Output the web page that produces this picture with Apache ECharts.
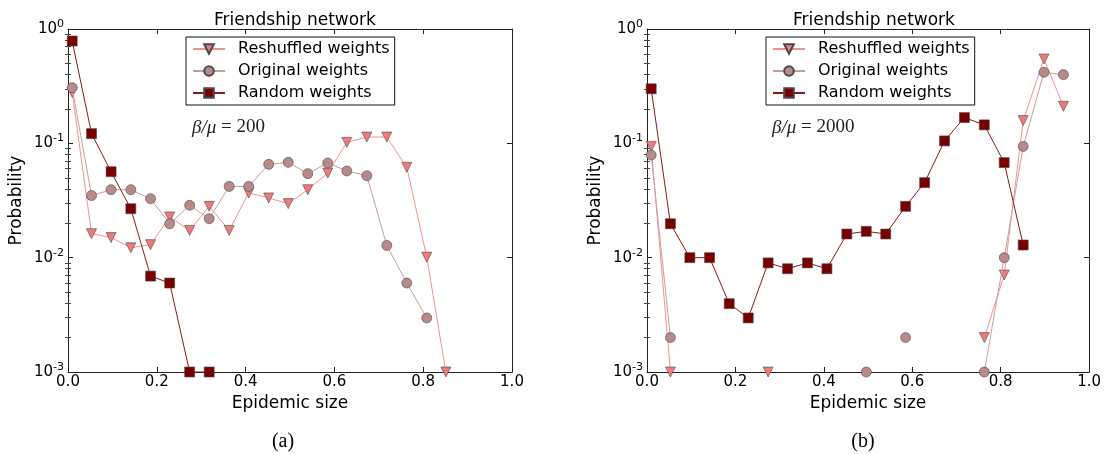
<!DOCTYPE html>
<html>
<head>
<meta charset="utf-8">
<script src="https://cdn.jsdelivr.net/npm/echarts@6/dist/echarts.min.js"></script>
<style>
  html, body { margin: 0; padding: 0; background: #fff; }
  #main { width: 1104px; height: 454px; }
</style>
</head>
<body>
<div id="main"></div>
<script>
// bin centres (epidemic size)
var binX = [0.0095, 0.053, 0.097, 0.1415, 0.186, 0.229, 0.274, 0.318, 0.363, 0.407, 0.452,
            0.496, 0.54, 0.585, 0.628, 0.673, 0.718, 0.763, 0.808, 0.851, 0.898, 0.942];

// (a) beta/mu = 200
var reshuffledA = [0.279, 0.0162, 0.015, 0.0122, 0.013, 0.0227, 0.0173, 0.0281, 0.0173, 0.0368, 0.0333,
                   0.0297, 0.0393, 0.055, 0.102, 0.1135, 0.1135, 0.0617, 0.0101, 0.001, null, null];
var originalA = [0.307, 0.0349, 0.0393, 0.0393, 0.0328, 0.0198, 0.0287, 0.0219, 0.042, 0.042, 0.0655,
                 0.0682, 0.0543, 0.0673, 0.0573, 0.0521, 0.0128, 0.006, 0.00297, null, null, null];
var randomA = [0.785, 0.1216, 0.0565, 0.0268, 0.0069, 0.006, 0.001, 0.001, null, null, null,
               null, null, null, null, null, null, null, null, null, null, null];

// (b) beta/mu = 2000
var reshuffledB = [0.094, 0.001, null, null, null, null, 0.001, null, null, null, null,
                   null, null, null, null, null, null, 0.002, 0.00705, 0.158, 0.547, 0.211];
var originalB = [0.079, 0.002, null, null, null, null, null, null, null, null, null,
                 0.001, null, 0.002, null, null, null, 0.001, 0.01, 0.094, 0.418, 0.399];
var randomB = [0.30, 0.0198, 0.01, 0.01, 0.00396, 0.00297, 0.009, 0.008, 0.009, 0.008, 0.0161,
               0.017, 0.0161, 0.0281, 0.0453, 0.105, 0.168, 0.145, 0.0678, 0.0129, null, null];

var minorY = [0.002, 0.003, 0.004, 0.005, 0.006, 0.007, 0.008, 0.009,
              0.02, 0.03, 0.04, 0.05, 0.06, 0.07, 0.08, 0.09,
              0.2, 0.3, 0.4, 0.5, 0.6, 0.7, 0.8, 0.9];

var names = ['Reshuffled weights', 'Original weights', 'Random weights'];
var fills = ['#f07a7a', '#b88a8a', '#7a0000'];
var lineCols = ['#f29191', '#c4a0a0', '#8a1a1a'];
var symbols = ['triangle', 'circle', 'rect'];
var rotations = [180, 0, 0];
var sizes = [10, 10, 10];

var sansFont = 'DejaVu Sans';
var serifFont = 'Liberation Serif';

function pairs(ys) {
    return binX.map(function (x, i) {
        return [x, ys[i] == null ? '-' : ys[i]];
    });
}

var grids = [
    { left: 68, top: 29, width: 444, height: 343 },
    { left: 647, top: 29, width: 444, height: 343 }
];

var xAxes = [];
var yAxes = [];
[0, 1].forEach(function (g) {
    // bottom axis with labels
    xAxes.push({
        type: 'value', gridIndex: g, min: 0, max: 1, interval: 0.2,
        name: 'Epidemic size', nameLocation: 'middle', nameGap: 22,
        nameTextStyle: { fontFamily: sansFont, fontSize: 17, color: '#000' },
        axisLine: { onZero: false, lineStyle: { color: '#222', width: 1 } },
        axisTick: { inside: true, length: 5, lineStyle: { color: '#222' } },
        axisLabel: { fontFamily: sansFont, fontSize: 15, color: '#000', margin: 3,
            formatter: function (v) { return v.toFixed(1); } },
        splitLine: { show: false }
    });
    // mirrored top axis
    xAxes.push({
        type: 'value', gridIndex: g, position: 'top', min: 0, max: 1, interval: 0.2,
        axisLine: { onZero: false, lineStyle: { color: '#222', width: 1 } },
        axisTick: { inside: true, length: 5, lineStyle: { color: '#222' } },
        axisLabel: { show: false },
        splitLine: { show: false }
    });
    // left log axis with labels
    yAxes.push({
        type: 'log', logBase: 10, gridIndex: g, min: 0.001, max: 1,
        name: 'Probability', nameLocation: 'middle', nameGap: 43,
        nameTextStyle: { fontFamily: sansFont, fontSize: 17, color: '#000' },
        axisLine: { show: true, onZero: false, lineStyle: { color: '#222', width: 1 } },
        axisTick: { inside: true, length: 5, lineStyle: { color: '#222' } },
        axisLabel: {
            margin: 4,
            formatter: function (v) {
                var e = Math.round(Math.log10(v));
                return '{b|10}{e|' + e + '}';
            },
            rich: {
                b: { fontFamily: sansFont, fontSize: 15, color: '#000' },
                e: { fontFamily: sansFont, fontSize: 11, color: '#000', padding: [0, 0, 10, 0] }
            }
        },
        splitLine: { show: false }
    });
    // right mirror
    yAxes.push({
        type: 'log', logBase: 10, gridIndex: g, position: 'right', min: 0.001, max: 1,
        axisLine: { show: true, onZero: false, lineStyle: { color: '#222', width: 1 } },
        axisTick: { inside: true, length: 5, lineStyle: { color: '#222' } },
        axisLabel: { show: false },
        splitLine: { show: false }
    });
    // minor ticks left / right
    ['left', 'right'].forEach(function (pos) {
        yAxes.push({
            type: 'log', logBase: 10, gridIndex: g, position: pos, min: 0.001, max: 1,
            axisLine: { show: false },
            axisTick: { inside: true, length: 3, customValues: minorY, lineStyle: { color: '#444' } },
            axisLabel: { show: false },
            splitLine: { show: false }
        });
    });
});

var panels = [[reshuffledA, originalA, randomA], [reshuffledB, originalB, randomB]];
var series = [];
panels.forEach(function (sets, g) {
    sets.forEach(function (ys, k) {
        series.push({
            name: names[k],
            type: 'line',
            xAxisIndex: g * 2,
            yAxisIndex: g * 4,
            data: pairs(ys),
            symbol: symbols[k],
            symbolSize: sizes[k],
            symbolRotate: rotations[k],
            showAllSymbol: true,
            connectNulls: false,
            clip: true,
            z: 2 + k,
            lineStyle: { color: lineCols[k], width: 1 },
            itemStyle: { color: fills[k], borderColor: '#4a4a4a', borderWidth: 0.6 }
        });
    });
});

function legendAt(left) {
    return {
        left: left, top: 37, orient: 'vertical',
        data: names,
        itemWidth: 32, itemHeight: 12, itemGap: 6,
        padding: [4, 5, 4, 6],
        borderColor: '#111', borderWidth: 1, borderRadius: 0,
        backgroundColor: '#fff',
        selectedMode: false,
        textStyle: { fontFamily: sansFont, fontSize: 16, color: '#000', padding: [0, 0, 0, 8] }
    };
}

var myChart = echarts.init(document.getElementById('main'), null, { renderer: 'canvas' });
myChart.setOption({
    animation: false,
    backgroundColor: '#fff',
    title: [
        { text: 'Friendship network', left: 290, top: 7, textAlign: 'center',
          textStyle: { fontFamily: sansFont, fontSize: 17, fontWeight: 'normal', color: '#000' } },
        { text: 'Friendship network', left: 869, top: 7, textAlign: 'center',
          textStyle: { fontFamily: sansFont, fontSize: 17, fontWeight: 'normal', color: '#000' } },
        { text: '(a)', left: 278, top: 427, textAlign: 'center',
          textStyle: { fontFamily: serifFont, fontSize: 20, fontWeight: 'normal', color: '#000' } },
        { text: '(b)', left: 858, top: 427, textAlign: 'center',
          textStyle: { fontFamily: serifFont, fontSize: 20, fontWeight: 'normal', color: '#000' } }
    ],
    legend: [legendAt(186), legendAt(766)],
    grid: grids,
    xAxis: xAxes,
    yAxis: yAxes,
    graphic: [
        { type: 'text', left: 192, top: 118, style: {
            text: '{i|β/μ}{n| = 200}',
            rich: {
                i: { fontFamily: serifFont, fontStyle: 'italic', fontSize: 19, fill: '#222' },
                n: { fontFamily: serifFont, fontSize: 19, fill: '#222' }
            } } },
        { type: 'text', left: 772, top: 118, style: {
            text: '{i|β/μ}{n| = 2000}',
            rich: {
                i: { fontFamily: serifFont, fontStyle: 'italic', fontSize: 19, fill: '#222' },
                n: { fontFamily: serifFont, fontSize: 19, fill: '#222' }
            } } }
    ],
    series: series
});
</script>
</body>
</html>
